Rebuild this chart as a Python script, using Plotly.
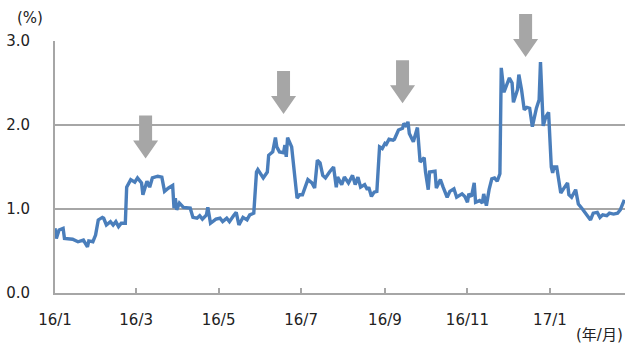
import plotly.graph_objects as go

# Daily rate observations (%), Jan 2016 - Feb 2017
dates = [
    "2016-01-01", "2016-01-02", "2016-01-04", "2016-01-07", "2016-01-08", "2016-01-11",
    "2016-01-14", "2016-01-18", "2016-01-22", "2016-01-25", "2016-01-26", "2016-01-29",
    "2016-01-31", "2016-02-02", "2016-02-05", "2016-02-06", "2016-02-08", "2016-02-11",
    "2016-02-13", "2016-02-15", "2016-02-17", "2016-02-19", "2016-02-22", "2016-02-23",
    "2016-02-26", "2016-02-29", "2016-03-02", "2016-03-05", "2016-03-06", "2016-03-09",
    "2016-03-11", "2016-03-13", "2016-03-17", "2016-03-20", "2016-03-22", "2016-03-25",
    "2016-03-28", "2016-03-29", "2016-03-30", "2016-03-31", "2016-04-02", "2016-04-05",
    "2016-04-08", "2016-04-10", "2016-04-12", "2016-04-15", "2016-04-17", "2016-04-19",
    "2016-04-22", "2016-04-23", "2016-04-25", "2016-04-29", "2016-05-02", "2016-05-04",
    "2016-05-07", "2016-05-09", "2016-05-12", "2016-05-14", "2016-05-16", "2016-05-19",
    "2016-05-22", "2016-05-24", "2016-05-27", "2016-05-29", "2016-05-30", "2016-06-03",
    "2016-06-06", "2016-06-07", "2016-06-10", "2016-06-12", "2016-06-13", "2016-06-15",
    "2016-06-18", "2016-06-19", "2016-06-20", "2016-06-21", "2016-06-24", "2016-06-25",
    "2016-06-28", "2016-06-30", "2016-07-02", "2016-07-04", "2016-07-06", "2016-07-09",
    "2016-07-11", "2016-07-13", "2016-07-15", "2016-07-17", "2016-07-19", "2016-07-22",
    "2016-07-25", "2016-07-27", "2016-07-28", "2016-07-31", "2016-08-02", "2016-08-05",
    "2016-08-08", "2016-08-10", "2016-08-12", "2016-08-14", "2016-08-17", "2016-08-19",
    "2016-08-20", "2016-08-22", "2016-08-24", "2016-08-26", "2016-08-28", "2016-08-30",
    "2016-09-01", "2016-09-02", "2016-09-04", "2016-09-07", "2016-09-08", "2016-09-11",
    "2016-09-14", "2016-09-15", "2016-09-17", "2016-09-18", "2016-09-19", "2016-09-22",
    "2016-09-23", "2016-09-25", "2016-09-27", "2016-09-30", "2016-10-01", "2016-10-03",
    "2016-10-04", "2016-10-08", "2016-10-09", "2016-10-12", "2016-10-14", "2016-10-17",
    "2016-10-19", "2016-10-22", "2016-10-24", "2016-10-28", "2016-10-30", "2016-11-01",
    "2016-11-02", "2016-11-04", "2016-11-06", "2016-11-07", "2016-11-10", "2016-11-12",
    "2016-11-13", "2016-11-15", "2016-11-17", "2016-11-19", "2016-11-21", "2016-11-23",
    "2016-11-25", "2016-11-26", "2016-11-28", "2016-11-30", "2016-12-02", "2016-12-04",
    "2016-12-05", "2016-12-08", "2016-12-09", "2016-12-11", "2016-12-13", "2016-12-15",
    "2016-12-17", "2016-12-19", "2016-12-21", "2016-12-22", "2016-12-24", "2016-12-25",
    "2016-12-27", "2016-12-29", "2016-12-31", "2017-01-01", "2017-01-02", "2017-01-03",
    "2017-01-04", "2017-01-06", "2017-01-08", "2017-01-09", "2017-01-11", "2017-01-14",
    "2017-01-15", "2017-01-17", "2017-01-20", "2017-01-21", "2017-01-22", "2017-01-25",
    "2017-01-28", "2017-01-31", "2017-02-02", "2017-02-05", "2017-02-07", "2017-02-09",
    "2017-02-12", "2017-02-14", "2017-02-17", "2017-02-20", "2017-02-22", "2017-02-24",
    "2017-02-25",
]
rates = [
    0.77, 0.65, 0.75, 0.77, 0.65, 0.65,
    0.64, 0.61, 0.63, 0.55, 0.62, 0.61,
    0.69, 0.87, 0.90, 0.89, 0.81, 0.85,
    0.81, 0.85, 0.79, 0.83, 0.83, 1.26,
    1.35, 1.32, 1.37, 1.31, 1.17, 1.33,
    1.26, 1.37, 1.39, 1.38, 1.21, 1.25,
    1.28, 1.01, 1.13, 0.99, 1.07, 1.02,
    1.02, 1.01, 0.90, 0.89, 0.92, 0.88,
    0.93, 1.02, 0.83, 0.88, 0.89, 0.85,
    0.89, 0.85, 0.92, 0.96, 0.81, 0.90,
    0.87, 0.93, 0.95, 1.44, 1.47, 1.37,
    1.44, 1.64, 1.68, 1.85, 1.74, 1.68,
    1.67, 1.76, 1.62, 1.85, 1.74, 1.58,
    1.13, 1.17, 1.17, 1.26, 1.35, 1.31,
    1.25, 1.58, 1.55, 1.40, 1.37, 1.44,
    1.50, 1.26, 1.38, 1.29, 1.38, 1.31,
    1.40, 1.29, 1.38, 1.26, 1.29, 1.23,
    1.26, 1.15, 1.20, 1.21, 1.74, 1.72,
    1.78, 1.77, 1.83, 1.82, 1.83, 1.94,
    1.96, 2.02, 1.98, 2.04, 1.90, 1.80,
    1.86, 1.97, 1.56, 1.61, 1.44, 1.23,
    1.44, 1.45, 1.25, 1.35, 1.26, 1.14,
    1.21, 1.24, 1.14, 1.18, 1.15, 1.08,
    1.18, 1.15, 1.31, 1.08, 1.10, 1.07,
    1.18, 1.04, 1.23, 1.36, 1.37, 1.33,
    1.42, 2.68, 2.39, 2.48, 2.56, 2.50,
    2.27, 2.42, 2.60, 2.42, 2.18, 2.21,
    2.20, 1.98, 2.14, 2.20, 2.30, 2.75,
    1.99, 2.10, 2.15, 1.70, 1.50, 1.43,
    1.50, 1.50, 1.31, 1.19, 1.24, 1.31,
    1.17, 1.14, 1.23, 1.13, 1.06, 1.00,
    0.94, 0.87, 0.95, 0.96, 0.90, 0.93,
    0.92, 0.95, 0.94, 0.95, 0.99, 1.07,
    1.11,
]

# Highlighted episodes: arrow tip date and level (%)
arrow_dates = ["2016-03-08", "2016-06-18", "2016-09-14", "2016-12-14"]
arrow_tips = [1.60, 2.13, 2.26, 2.81]

y_ticks = [0.0, 1.0, 2.0, 3.0]
Y_MAX = 3.0

FONT = "DejaVu Sans, Verdana, Noto Sans CJK JP, sans-serif"
GRID = "#a6a6a6"
ARROW = "#a6a6a6"

fig = go.Figure()
fig.add_trace(go.Scatter(
    x=dates, y=rates, mode="lines",
    line=dict(color="#4a7ebb", width=3.4),
    showlegend=False, hoverinfo="skip",
))

# Down arrows drawn in pixel units, anchored at each tip; the vertical
# reference is the plot fraction so arrows may rise above the plot top
shaft_w, head_w, head_h, total_h = 13, 25, 18, 43
arrow_path = (
    f"M0,0 L{-head_w/2},{head_h} L{-shaft_w/2},{head_h} L{-shaft_w/2},{total_h} "
    f"L{shaft_w/2},{total_h} L{shaft_w/2},{head_h} L{head_w/2},{head_h} Z"
)
for d, tip in zip(arrow_dates, arrow_tips):
    fig.add_shape(
        type="path", path=arrow_path,
        xref="x", yref="paper", xsizemode="pixel", ysizemode="pixel",
        xanchor=d, yanchor=tip / Y_MAX,
        fillcolor=ARROW, line=dict(width=0), layer="above",
    )

fig.add_annotation(text="(%)", xref="paper", yref="paper", x=-0.044, y=1.09,
                   xanchor="center", yanchor="middle",
                   showarrow=False, font=dict(family=FONT, size=15, color="#222"))
fig.add_annotation(text="(年/月)", xref="paper", yref="paper", x=0.956, y=-0.165,
                   xanchor="center", yanchor="middle",
                   showarrow=False, font=dict(family=FONT, size=15, color="#222"))

fig.update_layout(
    width=628, height=344,
    margin=dict(l=55, r=3, t=41, b=51),
    paper_bgcolor="white", plot_bgcolor="white",
    font=dict(family=FONT, size=15, color="#222"),
    xaxis=dict(
        type="date", range=["2016-01-01", "2017-02-25 12:00"],
        dtick="M2", tick0="2016-01-01", tickformat="%y/%-m",
        showgrid=False, showline=True, linecolor=GRID, linewidth=2,
        ticks="inside", ticklen=5, tickcolor=GRID, tickwidth=1.5,
        ticklabelstandoff=12, zeroline=False,
    ),
    yaxis=dict(
        range=[0, Y_MAX], tickvals=y_ticks, tickformat=".1f",
        showgrid=True, gridcolor=GRID, gridwidth=1.5,
        showline=True, linecolor=GRID, linewidth=2,
        ticks="", ticklabelstandoff=20, zeroline=False,
    ),
)

fig.write_html("out.html")
